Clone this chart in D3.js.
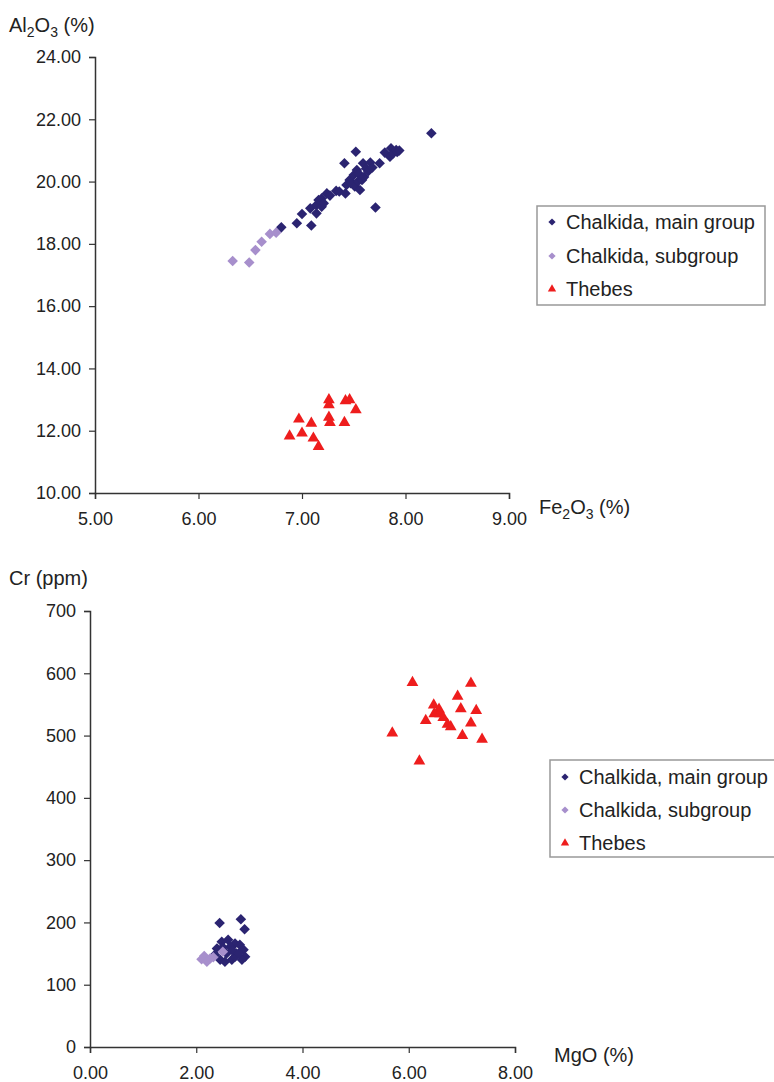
<!DOCTYPE html>
<html lang="en">
<head>
<meta charset="utf-8">
<title>Chalkida / Thebes scatter</title>
<script src="https://cdn.jsdelivr.net/npm/d3@7"></script>
<style>
  body { margin: 0; background: #fff; }
  text { font-family: "Liberation Sans", Arial, sans-serif; fill: #222; }
</style>
</head>
<body>
<script>
// top chart: Fe2O3 (%) vs Al2O3 (%)
var topMain = [[6.80,18.53],[6.95,18.66],[7.00,18.96],[7.08,19.14],[7.09,18.59],[7.14,18.98],[7.14,19.25],
  [7.16,19.41],[7.19,19.46],[7.19,19.19],[7.21,19.30],[7.24,19.62],[7.27,19.55],[7.33,19.70],[7.36,19.68],
  [7.42,19.62],[7.43,19.89],[7.46,20.05],[7.47,19.95],[7.50,20.21],[7.51,19.84],[7.53,20.37],[7.54,20.00],
  [7.55,20.25],[7.56,19.73],[7.58,20.05],[7.59,20.59],[7.60,20.15],[7.62,20.42],[7.64,20.33],[7.66,20.61],
  [7.68,20.45],[7.71,19.17],[7.41,20.59],[7.52,20.96],[7.75,20.59],[7.80,20.93],[7.85,20.80],[7.86,21.07],
  [7.88,20.90],[7.91,21.01],[7.92,20.95],[7.94,21.00],[8.25,21.55]];
var topSub = [[6.33,17.45],[6.49,17.40],[6.55,17.80],[6.61,18.07],[6.69,18.32],[6.75,18.36]];
var topThebes = [[7.26,12.99],[7.26,12.83],[7.42,12.96],[7.46,12.99],[7.52,12.67],[6.97,12.37],[7.09,12.24],
  [7.26,12.43],[7.27,12.26],[7.41,12.26],[6.88,11.83],[7.00,11.92],[7.11,11.76],[7.16,11.49]];
var topXTicks = [5, 6, 7, 8, 9];
var topYTicks = [10, 12, 14, 16, 18, 20, 22, 24];

// bottom chart: MgO (%) vs Cr (ppm)
var botMain = [[2.44,199],[2.84,205],[2.91,189],[2.48,169],[2.60,172],[2.73,166],[2.82,164],[2.39,158],
  [2.64,161],[2.89,156],[2.35,148],[2.57,150],[2.76,150],[2.92,145],[2.45,140],[2.67,140],[2.86,140],
  [2.54,137],[2.73,145],[2.50,160],[2.68,155],[2.80,150]];
var botSub = [[2.15,146],[2.26,142],[2.10,141],[2.20,137],[2.50,153],[2.32,144]];
var botThebes = [[6.07,585],[7.17,584],[6.92,563],[6.47,549],[6.57,542],[6.98,543],[7.27,540],[6.48,535],
  [6.59,535],[6.65,529],[6.32,524],[6.73,518],[6.79,514],[7.17,520],[5.69,504],[7.01,500],[7.38,494],[6.20,459]];
var botXTicks = [0, 2, 4, 6, 8];
var botYTicks = [0, 100, 200, 300, 400, 500, 600, 700];

var seriesNames = ["Chalkida, main group", "Chalkida, subgroup", "Thebes"];
var colMain = "#2b2471", colSub = "#a78fcc", colRed = "#ee1d1d";

var svg = d3.select("body").append("svg").attr("width", 774).attr("height", 1082);

var diamond = function(s){ return d3.symbol().type(d3.symbolSquare).size(s)(); };
var tri = function(s){ return d3.symbol().type(d3.symbolTriangle).size(s)(); };

function drawChart(opt) {
  var x = d3.scaleLinear().domain(opt.xDom).range(opt.xRange);
  var y = d3.scaleLinear().domain(opt.yDom).range(opt.yRange);
  var g = svg.append("g");

  var xa = g.append("g").attr("transform", "translate(0," + opt.yRange[0] + ")")
    .call(d3.axisBottom(x).tickValues(opt.xTicks).tickSize(6).tickPadding(13).tickFormat(d3.format(".2f")));
  var ya = g.append("g").attr("transform", "translate(" + opt.xRange[0] + ",0)")
    .call(d3.axisLeft(y).tickValues(opt.yTicks).tickSize(6).tickPadding(8).tickFormat(opt.yFmt));
  [xa, ya].forEach(function(a){
    a.select(".domain").attr("stroke", "#333").attr("stroke-width", 1.5);
    a.selectAll(".tick line").attr("stroke", "#333").attr("stroke-width", 1.2);
    a.selectAll(".tick text").attr("font-size", 18).attr("fill", "#222")
      .attr("font-family", "Liberation Sans, Arial, sans-serif");
  });

  // marks
  g.selectAll(".main").data(opt.main).enter().append("path")
    .attr("d", diamond(56))
    .attr("transform", function(d){ return "translate(" + x(d[0]) + "," + y(d[1]) + ") rotate(45)"; })
    .attr("fill", colMain);
  g.selectAll(".sub").data(opt.sub).enter().append("path")
    .attr("d", diamond(56))
    .attr("transform", function(d){ return "translate(" + x(d[0]) + "," + y(d[1]) + ") rotate(45)"; })
    .attr("fill", colSub);
  g.selectAll(".thb").data(opt.thebes).enter().append("path")
    .attr("d", tri(60))
    .attr("transform", function(d){ return "translate(" + x(d[0]) + "," + y(d[1]) + ")"; })
    .attr("fill", colRed);

  // legend
  var lg = g.append("g").attr("transform", "translate(" + opt.legX + "," + opt.legY + ")");
  lg.append("rect").attr("x", 0).attr("y", 0).attr("width", opt.legW).attr("height", opt.legH)
    .attr("fill", "#fff").attr("stroke", "#999").attr("stroke-width", 1.5);
  seriesNames.forEach(function(n, i){
    var cy = opt.legRows[i];
    var m = lg.append("path").attr("transform", "translate(15," + cy + ")" + (i < 2 ? " rotate(45)" : ""));
    if (i < 2) m.attr("d", diamond(26)).attr("fill", i === 0 ? colMain : colSub);
    else m.attr("d", tri(30)).attr("fill", colRed);
    lg.append("text").attr("x", 29).attr("y", cy).attr("dy", "0.35em")
      .attr("font-size", 20).text(n);
  });
  return g;
}

var g1 = drawChart({
  xDom: [5, 9], xRange: [95, 509], yDom: [10, 24], yRange: [493, 57],
  xTicks: topXTicks, yTicks: topYTicks, yFmt: d3.format(".2f"),
  main: topMain, sub: topSub, thebes: topThebes,
  legX: 537, legY: 206, legW: 228, legH: 99, legRows: [16, 50, 83]
});

var g2 = drawChart({
  xDom: [0, 8], xRange: [90, 515], yDom: [0, 700], yRange: [1047, 611],
  xTicks: botXTicks, yTicks: botYTicks, yFmt: d3.format("d"),
  main: botMain, sub: botSub, thebes: botThebes,
  legX: 550, legY: 760, legW: 240, legH: 97, legRows: [17, 50, 83]
});

// axis titles
function title(x, y, parts) {
  var t = svg.append("text").attr("x", x).attr("y", y).attr("font-size", 20);
  parts.forEach(function(p){
    if (p.sub) t.append("tspan").attr("font-size", 14).attr("dy", 5).text(p.s);
    else t.append("tspan").attr("dy", p.back ? -5 : 0).text(p.s);
  });
}
title(9, 32, [{s: "Al"}, {s: "2", sub: true}, {s: "O", back: true}, {s: "3", sub: true}, {s: " (%)", back: true}]);
title(539, 514, [{s: "Fe"}, {s: "2", sub: true}, {s: "O", back: true}, {s: "3", sub: true}, {s: " (%)", back: true}]);
title(9, 585, [{s: "Cr (ppm)"}]);
title(554, 1062, [{s: "MgO (%)"}]);
</script>
</body>
</html>
